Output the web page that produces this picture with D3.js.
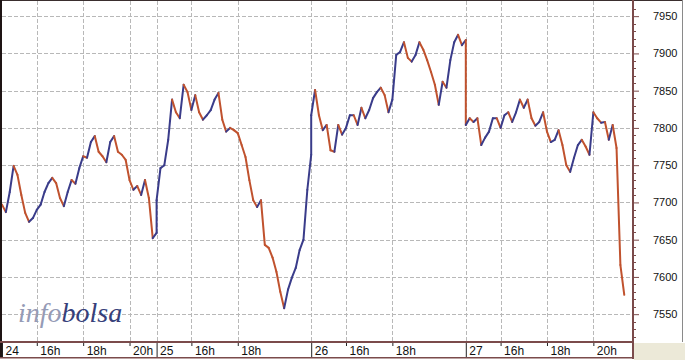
<!DOCTYPE html>
<html>
<head>
<meta charset="utf-8">
<script src="https://cdn.jsdelivr.net/npm/d3@7/dist/d3.min.js"></script>
<style>
  body { margin: 0; background: #fff; }
  svg { display: block; }
</style>
</head>
<body>
<div id="chart"></div>
<script>
// sessions shown on the chart, one per trading day
const days = ['24', '25', '26', '27'];
const hourTicks = [[16, 18, 20], [16, 18], [16, 18], [16, 18, 20]];
const yTicks = [7550, 7600, 7650, 7700, 7750, 7800, 7850, 7900, 7950];

// index level every 10 minutes from 14:30
const day24 = [7697, 7687, 7714, 7749, 7737, 7710, 7686, 7674, 7679, 7690,
  7697, 7714, 7726, 7733, 7726, 7706, 7695, 7714, 7730, 7725,
  7746, 7762, 7760, 7781, 7789, 7768, 7762, 7754, 7781, 7789,
  7768, 7764, 7757, 7730, 7717, 7722, 7710, 7730, 7706, 7652, 7659];
const day25 = [7703, 7746, 7750, 7784, 7838, 7821, 7813, 7858, 7848, 7824,
  7844, 7821, 7811, 7817, 7824, 7838, 7847, 7811, 7795, 7800,
  7797, 7793, 7777, 7761, 7730, 7703, 7694, 7703, 7643, 7639,
  7626, 7607, 7580, 7558, 7583, 7599, 7612, 7636, 7650, 7717, 7764];
const day26 = [7817, 7851, 7817, 7797, 7804, 7770, 7768, 7804, 7791, 7800,
  7817, 7817, 7804, 7827, 7813, 7824, 7840, 7848, 7854, 7844,
  7821, 7838, 7898, 7902, 7915, 7894, 7889, 7898, 7915, 7905,
  7891, 7875, 7858, 7831, 7862, 7854, 7891, 7915, 7925, 7911, 7918];
const day27 = [7804, 7813, 7808, 7813, 7777, 7787, 7795, 7813, 7813, 7800,
  7817, 7821, 7808, 7821, 7838, 7827, 7838, 7813, 7803, 7808,
  7821, 7795, 7781, 7784, 7797, 7777, 7750, 7741, 7760, 7777,
  7784, 7775, 7764, 7821, 7813, 7807, 7808, 7784, 7804, 7773, 7616, 7576];
const series = [day24, day25, day26, day27];

const W = 685, H = 360;
const sessionMin = 400, stepMin = 10, openHour = 14.5;
const plotL = 2, plotR = 633, plotT = 1, plotB = 341;
const upColor = '#3a3c8a', downColor = '#c0522e';
const axisColor = '#7b4b4b';
const gridColor = '#b8b8b8';

const svg = d3.select('#chart').append('svg')
  .attr('width', W)
  .attr('height', H);

svg.append('rect')
  .attr('width', W).attr('height', H)
  .attr('fill', '#fff');

// beige corner under the value axis
svg.append('rect')
  .attr('x', plotR + 1).attr('y', plotB + 2)
  .attr('width', W - plotR - 1).attr('height', H - plotB - 2)
  .attr('fill', '#ece9d8');

const x = d3.scaleLinear([0, sessionMin * 4 + 30], [plotL, plotR - 1]);
const y = d3.scaleLinear([7514, 7969], [plotB, plotT + 1]);

const xTicks = [];
days.forEach((d, i) => {
  xTicks.push({ t: i * sessionMin, label: d, day: true });
  hourTicks[i].forEach(h => {
    xTicks.push({ t: i * sessionMin + (h - openHour) * 60, label: h + 'h', day: false });
  });
});

// grid
const grid = svg.append('g');
grid.selectAll('line.h')
  .data(yTicks)
  .join('line')
  .attr('x1', plotL).attr('x2', plotR)
  .attr('y1', d => Math.round(y(d)) + 0.5)
  .attr('y2', d => Math.round(y(d)) + 0.5)
  .attr('stroke', gridColor)
  .attr('stroke-dasharray', '4,2');
grid.selectAll('line.v')
  .data(xTicks.filter(d => d.t > 0))
  .join('line')
  .attr('x1', d => Math.round(x(d.t)) + 0.5)
  .attr('x2', d => Math.round(x(d.t)) + 0.5)
  .attr('y1', plotT).attr('y2', plotB)
  .attr('stroke', gridColor)
  .attr('stroke-dasharray', '4,2');

// watermark
const wm = svg.append('text')
  .attr('x', 18).attr('y', 322)
  .attr('font-family', '"Liberation Serif", "DejaVu Serif", serif')
  .attr('font-style', 'italic')
  .attr('font-size', 28);
wm.append('tspan').attr('fill', '#959bb6').text('info');
wm.append('tspan').attr('fill', '#36407a').text('bolsa');

// price trace, each step coloured by direction
const pts = [];
series.forEach((vals, i) => {
  vals.forEach((v, j) => pts.push({ t: i * sessionMin + j * stepMin, v: v }));
});
svg.append('g')
  .selectAll('line')
  .data(d3.pairs(pts))
  .join('line')
  .attr('x1', d => x(d[0].t))
  .attr('y1', d => y(d[0].v))
  .attr('x2', d => x(d[1].t))
  .attr('y2', d => y(d[1].v))
  .attr('stroke', d => d[1].v >= d[0].v ? upColor : downColor)
  .attr('stroke-width', 2)
  .attr('stroke-linecap', 'round');

// frame
svg.append('line')
  .attr('x1', 0).attr('x2', W - 2).attr('y1', 0.5).attr('y2', 0.5)
  .attr('stroke', '#3a2e2e');
svg.append('rect')
  .attr('x', 0).attr('y', 0).attr('width', 2).attr('height', H - 2)
  .attr('fill', '#1e1414');
svg.append('line')
  .attr('x1', W - 2.5).attr('x2', W - 2.5).attr('y1', 0).attr('y2', plotB + 1)
  .attr('stroke', '#8a8a8a');

// value axis on the right
const yAxis = svg.append('g')
  .attr('transform', `translate(${plotR},0)`)
  .call(d3.axisRight(y).tickValues(yTicks).tickSize(6).tickPadding(14).tickFormat(d3.format('d')));
yAxis.select('.domain').remove();
yAxis.selectAll('line').attr('stroke', axisColor);
yAxis.selectAll('text')
  .attr('font-family', '"Liberation Sans", Arial, sans-serif')
  .attr('font-size', 11)
  .attr('fill', '#111');
const minor = d3.range(7520, 7970, 10).filter(v => v % 50 !== 0);
yAxis.selectAll('line.minor')
  .data(minor)
  .join('line')
  .attr('x1', 0).attr('x2', 3)
  .attr('y1', d => Math.round(y(d)) + 0.5)
  .attr('y2', d => Math.round(y(d)) + 0.5)
  .attr('stroke', axisColor);
svg.append('rect')
  .attr('x', plotR - 1).attr('y', 0).attr('width', 2).attr('height', H - 1)
  .attr('fill', axisColor);

// time axis strip
const xAxis = svg.append('g')
  .attr('transform', `translate(0,${plotB})`)
  .call(d3.axisBottom(x)
    .tickValues(xTicks.map(d => d.t))
    .tickSize(5)
    .tickFormat((d, i) => xTicks[i].label));
xAxis.select('.domain').remove();
xAxis.selectAll('.tick line')
  .attr('stroke', '#222')
  .attr('y2', (d, i) => xTicks[i].day ? 17 : 5);
xAxis.selectAll('.tick text')
  .attr('text-anchor', 'start')
  .attr('dx', 3)
  .attr('y', 5)
  .attr('dy', '0.71em')
  .attr('font-family', '"Liberation Sans", Arial, sans-serif')
  .attr('font-size', 12)
  .attr('fill', '#111');
svg.append('rect')
  .attr('x', 0).attr('y', plotB).attr('width', plotR).attr('height', 2)
  .attr('fill', axisColor);
svg.append('rect')
  .attr('x', 0).attr('y', H - 3).attr('width', plotR).attr('height', 1.5)
  .attr('fill', axisColor);
</script>
</body>
</html>
